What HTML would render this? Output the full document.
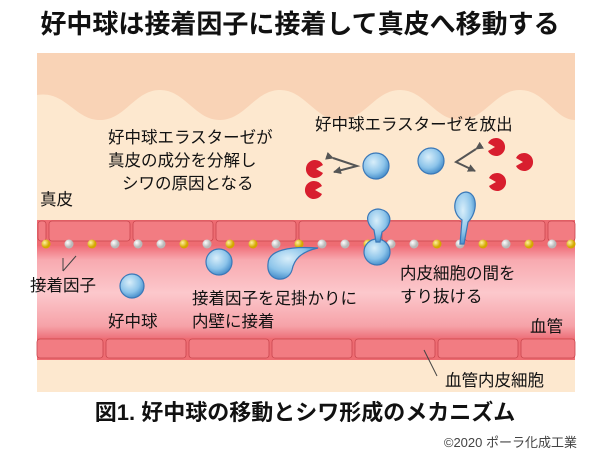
<!DOCTYPE html>
<html><head><meta charset="utf-8"><style>
html,body{margin:0;padding:0;background:#fff;width:600px;height:472px;overflow:hidden}
svg text{font-family:"Liberation Sans","Noto Sans CJK JP",sans-serif}
</style></head><body>
<svg width="600" height="472" viewBox="0 0 600 472" xmlns="http://www.w3.org/2000/svg">
<defs>
<linearGradient id="lum" x1="0" y1="0" x2="0" y2="1">
<stop offset="0" stop-color="#f06e78"/><stop offset="0.15" stop-color="#f8aab0"/><stop offset="0.5" stop-color="#fcc8cc"/><stop offset="0.85" stop-color="#f6a2a8"/><stop offset="1" stop-color="#ec6a74"/></linearGradient>
<radialGradient id="cell" cx="0.4" cy="0.35" r="0.7"><stop offset="0" stop-color="#d8eefa"/><stop offset="0.6" stop-color="#8cc4ea"/><stop offset="1" stop-color="#3d86c6"/></radialGradient>
<radialGradient id="yd" cx="0.35" cy="0.35"><stop offset="0" stop-color="#fff2a0"/><stop offset="1" stop-color="#d4a800"/></radialGradient>
<radialGradient id="wd" cx="0.35" cy="0.35"><stop offset="0" stop-color="#fff"/><stop offset="1" stop-color="#b8b8b8"/></radialGradient>
<marker id="ar" markerWidth="4" markerHeight="4" refX="3.5" refY="2" orient="auto"><path d="M0,0 L4,2 L0,4 z" fill="#555"/></marker>
</defs>
<text x="300" y="33" font-size="26" font-weight="bold" text-anchor="middle" fill="#111">好中球は接着因子に接着して真皮へ移動する</text>
<rect x="37" y="53" width="538" height="339" fill="#fde8cf"/>
<path d="M37,53 H575 V120 C555,120 545,90 520,90 C495,90 485,120 460,120 C435,120 425,90 400,90 C375,90 365,120 340,120 C315,120 305,90 280,90 C255,90 245,120 220,120 C195,120 185,90 160,90 C135,90 125,120 100,120 C75,120 65,90 37,95 Z" fill="#f9d3b6"/>
<rect x="37" y="220" width="538" height="26" fill="#ee6c72"/>
<g fill="#f27c82" stroke="#c9474f" stroke-width="0.8">
<rect x="38" y="221" width="8" height="20" rx="3"/><rect x="49" y="221" width="81" height="20" rx="3"/><rect x="133" y="221" width="80" height="20" rx="3"/><rect x="216" y="221" width="80" height="20" rx="3"/><rect x="299" y="221" width="80" height="20" rx="3"/><rect x="382" y="221" width="80" height="20" rx="3"/><rect x="465" y="221" width="80" height="20" rx="3"/><rect x="548" y="221" width="27" height="20" rx="3"/></g>
<rect x="37" y="246" width="538" height="94" fill="url(#lum)"/>
<rect x="37" y="338" width="538" height="22" fill="#ee6c72"/>
<g fill="#f27c82" stroke="#c9474f" stroke-width="0.8">
<rect x="37" y="339" width="66" height="19" rx="3"/><rect x="106" y="339" width="80" height="19" rx="3"/><rect x="189" y="339" width="80" height="19" rx="3"/><rect x="272" y="339" width="80" height="19" rx="3"/><rect x="355" y="339" width="80" height="19" rx="3"/><rect x="438" y="339" width="80" height="19" rx="3"/><rect x="521" y="339" width="54" height="19" rx="3"/></g>
<g>
<circle cx="46" cy="244" r="4.5" fill="url(#yd)"/><circle cx="69" cy="244" r="4.5" fill="url(#wd)"/><circle cx="92" cy="244" r="4.5" fill="url(#yd)"/><circle cx="115" cy="244" r="4.5" fill="url(#wd)"/><circle cx="138" cy="244" r="4.5" fill="url(#wd)"/><circle cx="161" cy="244" r="4.5" fill="url(#wd)"/><circle cx="184" cy="244" r="4.5" fill="url(#yd)"/><circle cx="207" cy="244" r="4.5" fill="url(#wd)"/><circle cx="230" cy="244" r="4.5" fill="url(#yd)"/><circle cx="253" cy="244" r="4.5" fill="url(#yd)"/><circle cx="276" cy="244" r="4.5" fill="url(#wd)"/><circle cx="299" cy="244" r="4.5" fill="url(#yd)"/><circle cx="322" cy="244" r="4.5" fill="url(#wd)"/><circle cx="345" cy="244" r="4.5" fill="url(#wd)"/><circle cx="368" cy="244" r="4.5" fill="url(#yd)"/><circle cx="391" cy="244" r="4.5" fill="url(#wd)"/><circle cx="414" cy="244" r="4.5" fill="url(#wd)"/><circle cx="437" cy="244" r="4.5" fill="url(#yd)"/><circle cx="460" cy="244" r="4.5" fill="url(#wd)"/><circle cx="483" cy="244" r="4.5" fill="url(#yd)"/><circle cx="506" cy="244" r="4.5" fill="url(#wd)"/><circle cx="529" cy="244" r="4.5" fill="url(#yd)"/><circle cx="552" cy="244" r="4.5" fill="url(#wd)"/><circle cx="571" cy="244" r="4.5" fill="url(#yd)"/>
</g>
<g stroke="#3a78b8" stroke-width="1.2" fill="url(#cell)">
<circle cx="132" cy="286" r="12"/>
<circle cx="219" cy="262" r="13"/>
<path d="M268,264 C268,250 290,246 318,248 C300,252 294,260 292,270 C288,284 266,282 268,264 Z"/>
<circle cx="377" cy="252" r="13"/>
<path d="M374,230 C364,222 366,210 378,209 C392,210 394,224 382,232 L380,242 L376,242 Z"/>
<path d="M462,220 C450,212 454,193 466,192 C478,193 478,212 468,222 L464,244 L460,244 Z"/>
<circle cx="376" cy="166" r="13"/>
<circle cx="431" cy="161" r="13"/>
</g>
<g fill="#d81e2e">
<path d="M315,160 a9,9 0 1,0 8,13 l-7,-4 l7,-4 a9,9 0 0,0 -8,-5z"/>
<path d="M314,181 a9,9 0 1,0 8,13 l-7,-4 l7,-4 a9,9 0 0,0 -8,-5z"/>
<path d="M496,138 a9,9 0 1,0 8,13 l-7,-4 l7,-4 a9,9 0 0,0 -8,-5z" transform="scale(-1,1) translate(-992,0)"/>
<path d="M497,173 a9,9 0 1,0 8,13 l-7,-4 l7,-4 a9,9 0 0,0 -8,-5z" transform="scale(-1,1) translate(-994,0)"/>
<path d="M524,153 a9,9 0 1,0 8,13 l-7,-4 l7,-4 a9,9 0 0,0 -8,-5z" transform="scale(-1,1) translate(-1048,0)"/>
</g>
<g stroke="#555" stroke-width="2" fill="none">
<polyline points="333,158 357,166 334,172" marker-start="url(#ar)" marker-end="url(#ar)"/>
<polyline points="476,149 456,162 475,171" marker-start="url(#ar)" marker-end="url(#ar)"/>
</g>
<g stroke="#444" stroke-width="1">
<line x1="63" y1="271" x2="76" y2="256"/><line x1="63" y1="271" x2="63" y2="258"/>
<line x1="424" y1="350" x2="437" y2="376"/>
</g>
<g font-size="16.5" fill="#111">
<text x="315" y="130">好中球エラスターゼを放出</text>
<text x="108" y="143">好中球エラスターゼが</text>
<text x="108" y="166">真皮の成分を分解し</text>
<text x="122" y="189">シワの原因となる</text>
<text x="40" y="205">真皮</text>
<text x="30" y="291">接着因子</text>
<text x="108" y="327">好中球</text>
<text x="192" y="304">接着因子を足掛かりに</text>
<text x="192" y="327">内壁に接着</text>
<text x="400" y="279">内皮細胞の間を</text>
<text x="400" y="302">すり抜ける</text>
<text x="530" y="332">血管</text>
<text x="445" y="386">血管内皮細胞</text>
</g>
<text x="305" y="420" font-size="22" font-weight="bold" text-anchor="middle" fill="#111">図1.  好中球の移動とシワ形成のメカニズム</text>
<text x="577" y="447" font-size="13" text-anchor="end" fill="#444">©2020 ポーラ化成工業</text>
</svg>
</body></html>
